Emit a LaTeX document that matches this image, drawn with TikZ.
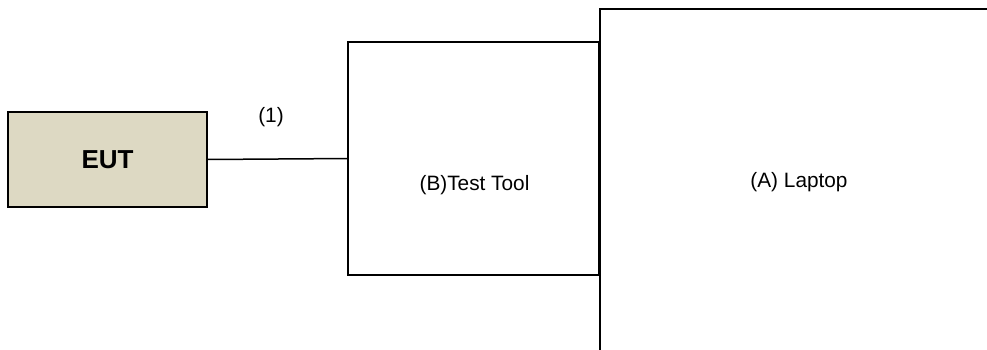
\documentclass[tikz,border=0pt]{standalone}
\usepackage{fontspec}
\setmainfont{Liberation Sans}
\usepackage{tikz}
\usetikzlibrary{positioning}
\definecolor{eutTan}{HTML}{DDD9C3}

\begin{document}
\begin{tikzpicture}[x = 1pt, y = -1pt,
              unit/.style = {draw = black, line width = 2pt, minimum width = #1, inner sep = 0pt, outer sep = 0pt},
              lbl/.style = {font = \fontsize{20.8}{24}\selectfont}]
              \useasboundingbox (0, 0) rectangle (987, 349);
              \clip (0, 0) rectangle (987, 349);
              \node [unit = 199pt, fill = eutTan, minimum height = 95pt] (eut) at (107.5, 159.5)
                {\fontsize{26}{30}\selectfont\bfseries EUT};
              \node [unit = 251pt, fill = white, minimum height = 233pt] (tool) at (473.5, 158.5) {};
              \node [unit = 420pt, fill = white, minimum height = 380pt] (laptop) at (810, 199) {};
              \draw [line width = 1.5pt] (eut.east) -- (tool.west);
              \node [lbl] (cable) at (271, 117) {(1)};
              \node [lbl] (toolname) at (474.5, 185) {(B)Test Tool};
              \node [lbl] (laptopname) at (799, 182) {(A) Laptop};
            \end{tikzpicture}
\end{document}
